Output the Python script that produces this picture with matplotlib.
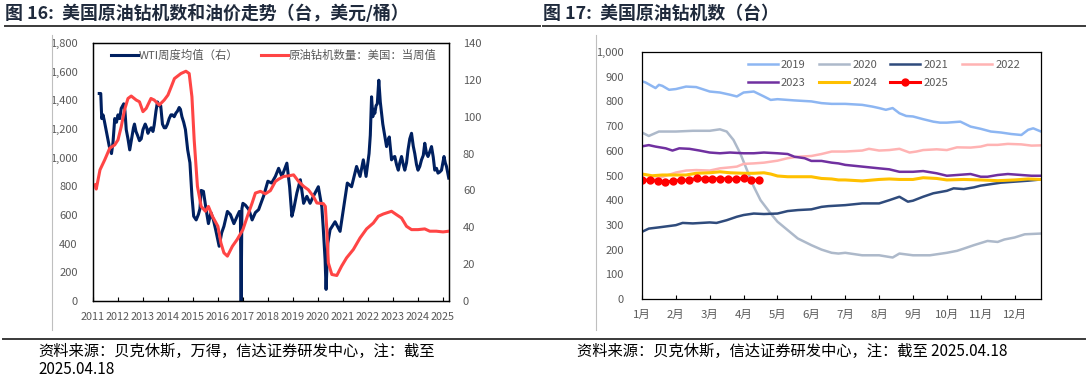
import numpy as np
import matplotlib
matplotlib.use("Agg")
import matplotlib.pyplot as plt
from matplotlib.lines import Line2D

plt.rcParams['font.family'] = ['Noto Sans CJK SC', 'DejaVu Sans']

# ---------------- 图16 数据：原油钻机数（左轴）与 WTI 周度均值（右轴）
rig_t = [2011.08, 2011.13, 2011.28, 2011.47, 2011.67, 2011.87, 2012.0, 2012.13, 2012.26, 2012.4,
         2012.53, 2012.73, 2012.86, 2013.0, 2013.13, 2013.32, 2013.45, 2013.65, 2013.85, 2014.0,
         2014.13, 2014.26, 2014.52, 2014.72, 2014.85, 2014.96, 2015.05, 2015.18, 2015.33, 2015.5,
         2015.62, 2015.78, 2016.0, 2016.12, 2016.24, 2016.38, 2016.58, 2016.77, 2017.0, 2017.18,
         2017.37, 2017.5, 2017.7, 2017.9, 2018.1, 2018.3, 2018.43, 2018.63, 2018.83, 2019.03,
         2019.23, 2019.43, 2019.62, 2019.82, 2019.96, 2020.22, 2020.3, 2020.36, 2020.42, 2020.56,
         2020.76, 2020.95, 2021.15, 2021.42, 2021.69, 2021.95, 2022.22, 2022.42, 2022.62, 2022.95,
         2023.15, 2023.35, 2023.55, 2023.75, 2024.01, 2024.28, 2024.48, 2024.74, 2025.01, 2025.25]
rig_v = [811, 781, 915, 985, 1066, 1089, 1124, 1216, 1332, 1413,
         1430, 1402, 1390, 1321, 1344, 1413, 1402, 1367, 1402, 1437,
         1494, 1552, 1587, 1603, 1587, 1425, 1124, 800, 660, 626,
         660, 591, 521, 405, 336, 313, 382, 429, 498, 591,
         684, 753, 765, 748, 770, 834, 850, 869, 873, 880,
         834, 800, 776, 730, 684, 679, 660, 498, 266, 185,
         178, 243, 301, 359, 440, 503, 544, 591, 607, 626,
         602, 579, 521, 498, 498, 503, 487, 487, 482, 487]

wti_t = [2011.25, 2011.31, 2011.35, 2011.4, 2011.45, 2011.52, 2011.58, 2011.65, 2011.74, 2011.8,
         2011.87, 2011.94, 2012.0, 2012.07, 2012.13, 2012.23, 2012.28, 2012.33, 2012.4, 2012.47,
         2012.56, 2012.62, 2012.66, 2012.72, 2012.78, 2012.86, 2012.93, 2013.0, 2013.09, 2013.15,
         2013.2, 2013.27, 2013.33, 2013.4, 2013.45, 2013.52, 2013.58, 2013.65, 2013.71, 2013.78,
         2013.85, 2013.91, 2013.98, 2014.05, 2014.12, 2014.18, 2014.25, 2014.32, 2014.38, 2014.45,
         2014.5, 2014.56, 2014.63, 2014.7, 2014.79, 2014.88, 2014.96, 2015.03, 2015.13, 2015.22,
         2015.28, 2015.33, 2015.42, 2015.53, 2015.62, 2015.67, 2015.72, 2015.82, 2015.91, 2016.05,
         2016.15, 2016.24, 2016.38, 2016.5, 2016.64, 2016.77, 2016.86, 2016.9, 2016.93, 2016.96,
         2017.0, 2017.1, 2017.24, 2017.37, 2017.5, 2017.63, 2017.83, 2018.0, 2018.15, 2018.3,
         2018.43, 2018.56, 2018.76, 2018.87, 2018.96, 2019.03, 2019.16, 2019.3, 2019.43, 2019.56,
         2019.69, 2019.82, 2020.02, 2020.16, 2020.22, 2020.29, 2020.33, 2020.4, 2020.49, 2020.69,
         2020.89, 2021.02, 2021.18, 2021.35, 2021.55, 2021.69, 2021.82, 2021.93, 2022.05, 2022.1,
         2022.15, 2022.2, 2022.24, 2022.28, 2022.33, 2022.38, 2022.44, 2022.5, 2022.55, 2022.6,
         2022.64, 2022.7, 2022.75, 2022.8, 2022.86, 2022.95, 2023.02, 2023.08, 2023.15, 2023.22,
         2023.28, 2023.35, 2023.42, 2023.48, 2023.55, 2023.61, 2023.68, 2023.75, 2023.82, 2023.88,
         2023.95, 2024.01, 2024.08, 2024.15, 2024.22, 2024.28, 2024.35, 2024.41, 2024.48, 2024.55,
         2024.62, 2024.68, 2024.75, 2024.81, 2024.88, 2024.95, 2025.05, 2025.1, 2025.15, 2025.24]
wti_v = [112.6, 112.6, 99, 101, 98, 93, 89, 84, 80, 86,
         99, 97, 101, 99, 104.5, 107, 103, 93, 88, 82,
         89, 94, 96, 92, 90, 87, 88, 93, 96, 94,
         91, 93, 94, 92, 95.5, 103, 108, 106, 106, 96,
         94, 94, 96, 99, 101, 101, 100, 102, 103, 105,
         104, 100, 97, 93, 82, 75, 57, 46, 44, 47,
         50, 60, 59.5, 49.5, 42, 45, 48, 44, 38.7, 29.7,
         37, 40.5, 48.6, 46.9, 42, 46, 48.6, 47, 0, 50,
         53, 52, 49.6, 44, 48, 49.6, 57, 65, 64, 67.6,
         72, 67.6, 74.8, 62, 46, 49.6, 58.6, 65.8, 53, 56.8,
         53, 56.8, 62, 51, 38.7, 22.5, 6.3, 31.5, 38.7, 43,
         37.8, 49.6, 64, 62, 73, 67.6, 76.6, 67.6, 80, 90,
         110.8, 100, 104, 101.8, 106, 107, 119.8, 108, 101.8, 96,
         92.8, 88, 83.8, 87, 89, 76.6, 78, 78.4, 74, 71,
         75, 78.4, 74, 71, 75, 82, 88, 91, 84, 80,
         74, 71, 73, 76.6, 79, 85.6, 80, 78.4, 81, 83.8,
         78, 71, 72, 69.4, 70, 71, 78.4, 75, 73, 66.7]

years16 = list(range(2011, 2026))

# ---------------- 图17 数据：各年美国原油钻机数（按月份位置）
months = ['1月', '2月', '3月', '4月', '5月', '6月', '7月', '8月', '9月', '10月', '11月', '12月']

m2019 = [1, 1.1, 1.4, 1.5, 1.6, 1.8, 2, 2.3, 2.6, 3, 3.3, 3.6, 3.8, 4, 4.3, 4.6, 4.8, 5, 5.5, 6,
         6.3, 6.6, 7, 7.5, 7.8, 8, 8.2, 8.4, 8.6, 8.8, 9, 9.3, 9.6, 9.8, 10, 10.4, 10.7, 11, 11.3,
         11.6, 11.9, 12.2, 12.4, 12.55, 12.78]
v2019 = [881, 877, 854, 867, 863, 847, 850, 860, 858, 840, 836, 827, 820, 836, 840, 820, 806, 809, 804, 800,
         793, 790, 790, 786, 779, 773, 766, 773, 752, 741, 739, 728, 718, 714, 714, 718, 698, 689, 678,
         674, 668, 664, 685, 691, 678]

m2020 = [1, 1.2, 1.5, 2, 2.5, 3, 3.3, 3.5, 3.7, 3.9, 4.1, 4.3, 4.5, 4.8, 5, 5.3, 5.6, 6, 6.3, 6.6,
         6.8, 7, 7.5, 8, 8.4, 8.6, 9, 9.5, 10, 10.3, 10.5, 10.8, 11.2, 11.5, 11.7, 12, 12.3, 12.78]
v2020 = [674, 660, 678, 678, 681, 681, 687, 678, 644, 590, 522, 455, 400, 346, 313, 279, 245, 218, 200, 187,
         184, 187, 177, 177, 168, 184, 177, 177, 187, 195, 204, 218, 235, 231, 241, 249, 262, 265]

m2021 = [1, 1.2, 1.5, 2, 2.2, 2.5, 3, 3.2, 3.5, 3.8, 4, 4.3, 4.6, 5, 5.3, 5.6, 6, 6.3, 6.5, 7,
         7.5, 8, 8.3, 8.6, 8.85, 9, 9.3, 9.6, 10, 10.2, 10.5, 10.8, 11, 11.3, 11.6, 12, 12.4, 12.78]
v2021 = [272, 285, 290, 299, 308, 306, 310, 308, 319, 333, 340, 346, 344, 346, 356, 360, 363, 373, 376, 380,
         387, 387, 400, 414, 394, 398, 414, 428, 438, 448, 445, 452, 459, 465, 471, 475, 479, 484]

m2022 = [1, 1.5, 2, 2.3, 2.6, 3, 3.3, 3.6, 3.8, 4, 4.3, 4.6, 5, 5.3, 5.6, 6, 6.3, 6.6, 7, 7.5,
         7.7, 8, 8.3, 8.6, 8.9, 9.1, 9.3, 9.7, 10, 10.3, 10.7, 11, 11.2, 11.5, 11.8, 12.2, 12.5, 12.78]
v2022 = [480, 490, 512, 520, 522, 520, 529, 533, 536, 547, 549, 552, 560, 570, 576, 579, 587, 597, 597, 601,
         608, 601, 603, 608, 593, 597, 603, 606, 603, 614, 613, 617, 624, 624, 628, 626, 621, 622]

m2023 = [1, 1.2, 1.4, 1.7, 1.9, 2.1, 2.4, 2.7, 3, 3.3, 3.6, 4, 4.3, 4.6, 5, 5.3, 5.5, 5.8, 6, 6.3,
         6.6, 6.8, 7, 7.5, 8, 8.3, 8.6, 9, 9.3, 9.7, 10, 10.3, 10.7, 11, 11.2, 11.5, 11.8, 12.2, 12.5, 12.78]
v2023 = [618, 623, 617, 610, 601, 610, 608, 601, 593, 590, 593, 590, 590, 593, 590, 587, 576, 570, 559, 559,
         552, 549, 543, 536, 529, 525, 515, 515, 518, 509, 499, 502, 506, 495, 495, 502, 506, 502, 499, 499]

m2024 = [1, 1.3, 1.6, 2, 2.3, 2.6, 3, 3.3, 3.6, 4, 4.3, 4.6, 4.8, 5, 5.3, 5.6, 6, 6.3, 6.6, 6.8,
         7, 7.5, 8, 8.3, 8.6, 9, 9.3, 9.7, 10, 10.5, 11, 11.5, 12, 12.4, 12.78]
v2024 = [506, 499, 502, 502, 502, 509, 511, 515, 511, 509, 509, 511, 506, 498, 495, 495, 495, 488, 486, 482,
         482, 478, 484, 486, 484, 484, 491, 488, 482, 484, 482, 479, 482, 486, 484]

# 2025 年为周度数据（第 1~16 周）
w2025 = list(range(16))
v2025 = [482, 480, 478, 472, 479, 481, 481, 488, 486, 486, 487, 486, 484, 489, 480, 481]

# ---------------- 画布
fig = plt.figure(figsize=(10.88, 3.81), dpi=100)
W, H = 1088, 381


def box(x0, y0, x1, y1):
    return [x0 / W, 1 - y1 / H, (x1 - x0) / W, (y1 - y0) / H]


title_color = '#1F2A3C'
grey = '#595959'

# 标题与分隔线
fig.text(5 / W, 1 - 14 / H, '图 16:  美国原油钻机数和油价走势（台，美元/桶）', fontsize=12.9,
         fontweight='bold', color=title_color, va='center', ha='left')
fig.text(543 / W, 1 - 14 / H, '图 17:  美国原油钻机数（台）', fontsize=12.9,
         fontweight='bold', color=title_color, va='center', ha='left')
fig.add_artist(Line2D([5 / W, 540 / W], [1 - 26 / H] * 2, color='#3A3A3A', lw=1.4))
fig.add_artist(Line2D([543 / W, 1085 / W], [1 - 26 / H] * 2, color='#3A3A3A', lw=1.4))
fig.add_artist(Line2D([3 / W, 1085 / W], [1 - 339 / H] * 2, color='#3A3A3A', lw=1.4))
fig.add_artist(Line2D([52 / W, 52 / W], [1 - 35 / H, 1 - 330 / H], color='#BFBFBF', lw=0.8))
fig.add_artist(Line2D([596 / W, 596 / W], [1 - 35 / H, 1 - 330 / H], color='#BFBFBF', lw=0.8))

# 资料来源
fig.text(38 / W, 1 - 351 / H, '资料来源：贝克休斯，万得，信达证券研发中心，注：截至', fontsize=11,
         style='italic', va='center', ha='left')
fig.text(38 / W, 1 - 370 / H, '2025.04.18', fontsize=11, style='italic', va='center', ha='left')
fig.text(577 / W, 1 - 351 / H, '资料来源：贝克休斯，信达证券研发中心，注：截至 2025.04.18', fontsize=11,
         style='italic', va='center', ha='left')

# ---------------- 图16
ax1 = fig.add_axes(box(93, 43, 449, 301))
ax2 = ax1.twinx()
l_rig, = ax1.plot(rig_t, rig_v, color='#FF4545', lw=2.2, label='原油钻机数量：美国：当周值')
l_wti, = ax2.plot(wti_t, wti_v, color='#002060', lw=2.2, label='WTI周度均值（右）')
ax1.set_zorder(ax2.get_zorder() + 1)
ax1.patch.set_visible(False)

ax1.set_xlim(2011.0, 2025.25)
ax1.set_ylim(0, 1800)
ax2.set_ylim(0, 140)
ax1.set_yticks(range(0, 1801, 200))
ax1.set_yticklabels([f'{v:,}' for v in range(0, 1801, 200)])
ax2.set_yticks(range(0, 141, 20))
ax1.set_xticks(years16)
ax1.set_xticklabels([str(y) for y in years16])
ax1.tick_params(axis='x', direction='in', length=3, labelsize=7.8, labelcolor=grey, pad=8)
ax1.tick_params(axis='y', length=0, labelsize=8, labelcolor=grey, pad=11)
ax2.tick_params(axis='y', length=0, labelsize=8, labelcolor=grey, pad=10)
for a in (ax1, ax2):
    for s in a.spines.values():
        s.set_color('black')
        s.set_linewidth(0.9)
ax1.legend([l_wti, l_rig], ['WTI周度均值（右）', '原油钻机数量：美国：当周值'], ncol=2, frameon=False,
           loc='upper left', bbox_to_anchor=(0.03, 1.0), fontsize=8.2, labelcolor=grey,
           handlelength=2.4, columnspacing=2.0, handletextpad=0.05, borderaxespad=0.2)

# ---------------- 图17
ax3 = fig.add_axes(box(642, 52, 1041, 299))
week_pos = [1 + w * 12 / 52 for w in w2025]
lines = {}
lines['2019'], = ax3.plot(m2019, v2019, color='#8DB6F2', lw=1.8)
lines['2020'], = ax3.plot(m2020, v2020, color='#ADB9CA', lw=1.8)
lines['2021'], = ax3.plot(m2021, v2021, color='#2F4B7C', lw=1.8)
lines['2022'], = ax3.plot(m2022, v2022, color='#FFB3B3', lw=1.8)
lines['2023'], = ax3.plot(m2023, v2023, color='#7030A0', lw=1.8)
lines['2024'], = ax3.plot(m2024, v2024, color='#FFC000', lw=2.2)
lines['2025'], = ax3.plot(week_pos, v2025, color='#FF0000', lw=2.2, marker='o', markersize=5)

ax3.set_xlim(1, 12.78)
ax3.set_ylim(0, 1000)
ax3.set_xticks(range(1, 13))
ax3.set_xticklabels(months)
ax3.set_yticks(range(0, 1001, 100))
ax3.set_yticklabels([f'{v:,}' for v in range(0, 1001, 100)])
ax3.tick_params(axis='x', direction='in', length=3, labelsize=8.2, labelcolor=grey, pad=8)
ax3.tick_params(axis='y', length=0, labelsize=8, labelcolor=grey, pad=13)
for s in ax3.spines.values():
    s.set_color('black')
    s.set_linewidth(0.9)
order = ['2019', '2023', '2020', '2024', '2021', '2025', '2022']
ax3.legend([lines[k] for k in order], order, ncol=4, frameon=False, loc='upper left',
           bbox_to_anchor=(0.245, 1.0), fontsize=8, labelcolor=grey, handlelength=2.7,
           columnspacing=1.2, handletextpad=0.3, labelspacing=0.75, borderaxespad=0.3)

fig.savefig('out.png', dpi=100)
